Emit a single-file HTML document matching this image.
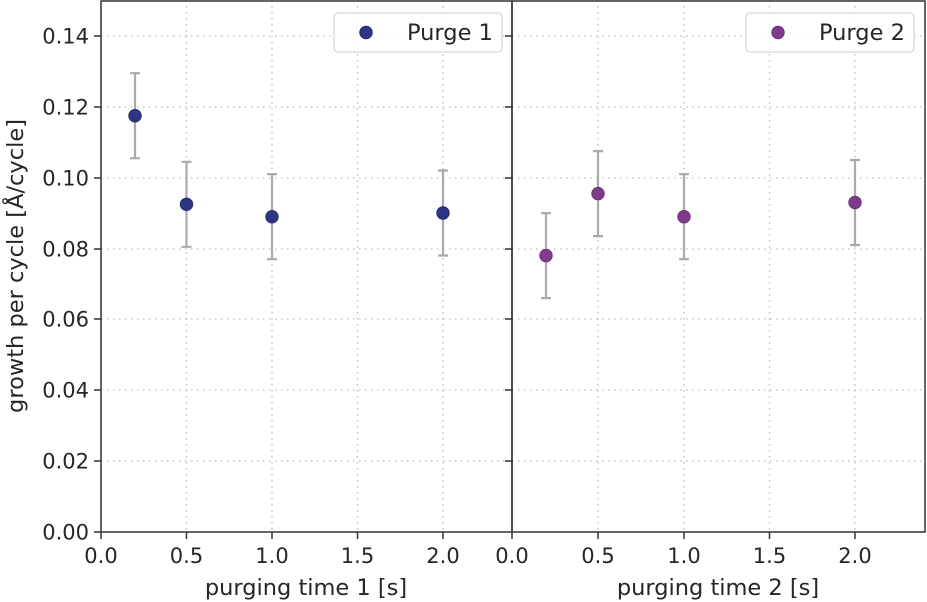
<!DOCTYPE html><html><head><style>body{margin:0;background:#fff}svg{display:block}text{font-family:"DejaVu Sans","Liberation Sans",sans-serif;fill:#262626}</style></head><body>
<svg width="927" height="602" viewBox="0 0 927 602">
<g stroke="#bbb" stroke-width="1.3" stroke-dasharray="1.5,4.5">
<line x1="101" x2="512" y1="36" y2="36"/><line x1="101" x2="512" y1="107" y2="107"/><line x1="101" x2="512" y1="178" y2="178"/><line x1="101" x2="512" y1="249" y2="249"/><line x1="101" x2="512" y1="319" y2="319"/><line x1="101" x2="512" y1="390" y2="390"/><line x1="101" x2="512" y1="461" y2="461"/>
<line x1="512" x2="925" y1="36" y2="36"/><line x1="512" x2="925" y1="107" y2="107"/><line x1="512" x2="925" y1="178" y2="178"/><line x1="512" x2="925" y1="249" y2="249"/><line x1="512" x2="925" y1="319" y2="319"/><line x1="512" x2="925" y1="390" y2="390"/><line x1="512" x2="925" y1="461" y2="461"/>
<line x1="186.5" x2="186.5" y1="0" y2="532"/><line x1="272" x2="272" y1="0" y2="532"/><line x1="357.5" x2="357.5" y1="0" y2="532"/><line x1="443" x2="443" y1="0" y2="532"/>
<line x1="598" x2="598" y1="0" y2="532"/><line x1="684" x2="684" y1="0" y2="532"/><line x1="769.5" x2="769.5" y1="0" y2="532"/><line x1="855" x2="855" y1="0" y2="532"/>
</g>
<g stroke="#aaa" stroke-width="2.2" fill="none">
<path d="M135 73.2V158.2M130 73.2H140M130 158.2H140"/>
<path d="M186.5 161.8V246.8M181.5 161.8H191.5M181.5 246.8H191.5"/>
<path d="M272 174.2V259.2M267 174.2H277M267 259.2H277"/>
<path d="M443 170.5V255.5M438 170.5H448M438 255.5H448"/>
<path d="M546 213.1V298.1M541 213.1H551M541 298.1H551"/>
<path d="M598 151.1V236.1M593 151.1H603M593 236.1H603"/>
<path d="M684 174.2V259.2M679 174.2H689M679 259.2H689"/>
<path d="M855 160V245M850 160H860M850 245H860"/>
</g>
<g fill="#2f3585" stroke="#22285f" stroke-width="0.8">
<circle cx="135" cy="115.7" r="6.3"/><circle cx="186.5" cy="204.3" r="6.3"/><circle cx="272" cy="216.7" r="6.3"/><circle cx="443" cy="213" r="6.3"/>
</g>
<g fill="#7f3a8c" stroke="#6b2f77" stroke-width="0.8">
<circle cx="546" cy="255.6" r="6.3"/><circle cx="598" cy="193.6" r="6.3"/><circle cx="684" cy="216.7" r="6.3"/><circle cx="855" cy="202.5" r="6.3"/>
</g>
<g fill="none" stroke="#333" stroke-width="1.5">
<rect x="101" y="1" width="411" height="531"/><rect x="512" y="1" width="413" height="531"/>
</g>
<g stroke="#333" stroke-width="1.5">
<line x1="94" x2="101" y1="36" y2="36"/><line x1="94" x2="101" y1="107" y2="107"/><line x1="94" x2="101" y1="178" y2="178"/><line x1="94" x2="101" y1="249" y2="249"/><line x1="94" x2="101" y1="319" y2="319"/><line x1="94" x2="101" y1="390" y2="390"/><line x1="94" x2="101" y1="461" y2="461"/><line x1="94" x2="101" y1="532" y2="532"/>
<line x1="505" x2="512" y1="36" y2="36"/><line x1="505" x2="512" y1="107" y2="107"/><line x1="505" x2="512" y1="178" y2="178"/><line x1="505" x2="512" y1="249" y2="249"/><line x1="505" x2="512" y1="319" y2="319"/><line x1="505" x2="512" y1="390" y2="390"/><line x1="505" x2="512" y1="461" y2="461"/>
<line x1="101" x2="101" y1="532" y2="539"/><line x1="186.5" x2="186.5" y1="532" y2="539"/><line x1="272" x2="272" y1="532" y2="539"/><line x1="357.5" x2="357.5" y1="532" y2="539"/><line x1="443" x2="443" y1="532" y2="539"/>
<line x1="512" x2="512" y1="532" y2="539"/><line x1="598" x2="598" y1="532" y2="539"/><line x1="684" x2="684" y1="532" y2="539"/><line x1="769.5" x2="769.5" y1="532" y2="539"/><line x1="855" x2="855" y1="532" y2="539"/>
</g>
<g font-size="21" text-anchor="end">
<text x="89" y="43.5">0.14</text><text x="89" y="114.5">0.12</text><text x="89" y="185.5">0.10</text><text x="89" y="256.5">0.08</text><text x="89" y="326.5">0.06</text><text x="89" y="397.5">0.04</text><text x="89" y="468.5">0.02</text><text x="89" y="539.5">0.00</text>
</g>
<g font-size="21" text-anchor="middle">
<text x="101" y="563">0.0</text><text x="186.5" y="563">0.5</text><text x="272" y="563">1.0</text><text x="357.5" y="563">1.5</text><text x="443" y="563">2.0</text>
<text x="512" y="563">0.0</text><text x="598" y="563">0.5</text><text x="684" y="563">1.0</text><text x="769.5" y="563">1.5</text><text x="855" y="563">2.0</text>
</g>
<g font-size="22.5" text-anchor="middle">
<text x="306" y="595">purging time 1 [s]</text><text x="718" y="595">purging time 2 [s]</text>
<text transform="translate(23,266) rotate(-90)">growth per cycle [Å/cycle]</text>
</g>
<rect x="334" y="13" width="168" height="39" rx="4" fill="#fff" fill-opacity="0.85" stroke="#d6d6d6" stroke-width="1.3"/>
<circle cx="366" cy="32.5" r="6.3" fill="#2f3585" stroke="#22285f" stroke-width="0.8"/>
<text x="407" y="40" font-size="22.5">Purge 1</text>
<rect x="746" y="13" width="168" height="39" rx="4" fill="#fff" fill-opacity="0.85" stroke="#d6d6d6" stroke-width="1.3"/>
<circle cx="778" cy="32.5" r="6.3" fill="#7f3a8c" stroke="#6b2f77" stroke-width="0.8"/>
<text x="819" y="40" font-size="22.5">Purge 2</text>
</svg></body></html>
